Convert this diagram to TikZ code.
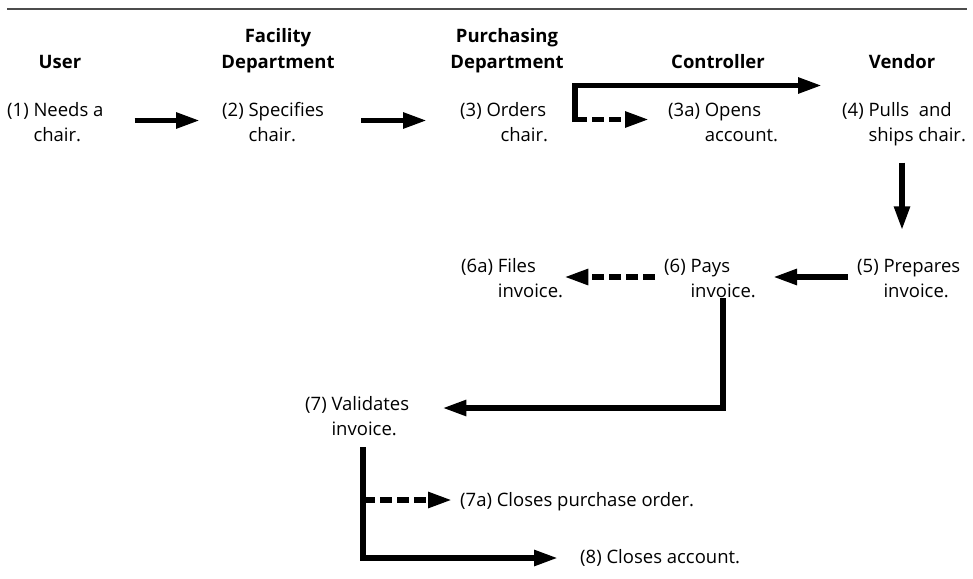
\documentclass[tikz,border=0pt]{standalone}
\usepackage{fontspec}
\setmainfont{Open Sans}
\usetikzlibrary{arrows.meta,positioning}

% one step: label, first line, indented second line
\newcommand{\act}[3]{\begin{tabular}[t]{@{}l@{ }l@{}}#1&#2\\&#3\end{tabular}}
\newcommand{\twohead}[2]{\begin{tabular}[b]{@{}c@{}}#1\\#2\end{tabular}}

\tikzset{
  txt/.style={inner sep=0pt, anchor=base west, font=\fontsize{18.5}{25}\selectfont},
  hd/.style={inner sep=0pt, anchor=base, font=\fontsize{18.5}{25}\selectfont\bfseries},
  flow/.style={line width=5.5pt, -{Triangle[length=24pt,width=15pt]}},
  flowd/.style={flow, dash pattern=on 12pt off 5pt},
}

\begin{document}
\begin{tikzpicture}[x=1pt,y=-1pt]
\useasboundingbox (0,0) rectangle (973,578);

% Rule
\draw[line width=2pt, black!70] (7,9) -- (967,9);

% Column heads
\node[hd] (hUser) at (60,68) {User};
\node[hd] (hFac) at (278,68) {\twohead{Facility}{Department}};
\node[hd] (hPur) at (507,68) {\twohead{Purchasing}{Department}};
\node[hd] (hCon) at (718,68) {Controller};
\node[hd] (hVen) at (902,68) {Vendor};

% Steps
\node[txt] (n1) at (7,116) {\act{(1)}{Needs a}{chair.}};
\node[txt] (n2) at (222,116) {\act{(2)}{Specifies}{chair.}};
\node[txt] (n3) at (460,116) {\act{(3)}{Orders}{\hspace*{14pt}chair.}};
\node[txt] (n3a) at (668,116) {\act{(3a)}{Opens}{account.}};
\node[txt] (n4) at (842,116) {\act{(4)}{Pulls\ \ and}{ships chair.}};
\node[txt] (n5) at (857,272) {\act{(5)}{Prepares}{invoice.}};
\node[txt] (n6) at (664,272) {\act{(6)}{Pays}{invoice.}};
\node[txt] (n6a) at (461,272) {\act{(6a)}{Files}{invoice.}};
\node[txt] (n7) at (305,410) {\act{(7)}{Validates}{invoice.}};
\node[txt] (n7a) at (460,506) {(7a) Closes purchase order.};
\node[txt] (n8) at (580,563) {(8) Closes account.};

% Bend points
\coordinate (fork3) at (575,119.5);
\coordinate (top3) at (575,85.5);
\coordinate (drop6) at (723,298);
\coordinate (drop7) at (363,447);
\coordinate (t7a) at ([yshift=6pt]n7a.base west);

% Flow
\draw[flow, shorten <=31pt, shorten >=22pt] ([yshift=-4.5pt]n1.base east) -- ([yshift=-4.5pt]n2.base west);
\draw[flow, shorten <=37pt, shorten >=33pt] ([yshift=-4.5pt]n2.base east) -- ([yshift=-4.5pt]n3.base west);
\draw[flow, shorten >=20pt] ([yshift=-2.7pt]fork3) |- (top3 -| n4.west);
\draw[flowd, shorten >=19pt] (fork3) -- (fork3 -| n3a.west);
\draw[flow, shorten <=14pt, shorten >=24pt] (n4.south -| hVen.south) -- (n5.north -| hVen.south);
\draw[flow, shorten <=9pt, shorten >=17pt] ([yshift=-5pt]n5.base west) -- ([yshift=-5pt]n6.base east);
\draw[flowd, shorten <=9pt, shorten >=1pt] ([yshift=-5pt]n6.base west) -- ([yshift=-5pt]n6a.base east);
\draw[flow, shorten >=33pt] (drop6) |- ([yshift=2pt]n7.base east);
\draw[flowd, shorten >=8pt] (drop7 |- t7a) -- (t7a);
\draw[flow, shorten >=22pt] (drop7) |- ([yshift=5pt]n8.base west);
\end{tikzpicture}
\end{document}
